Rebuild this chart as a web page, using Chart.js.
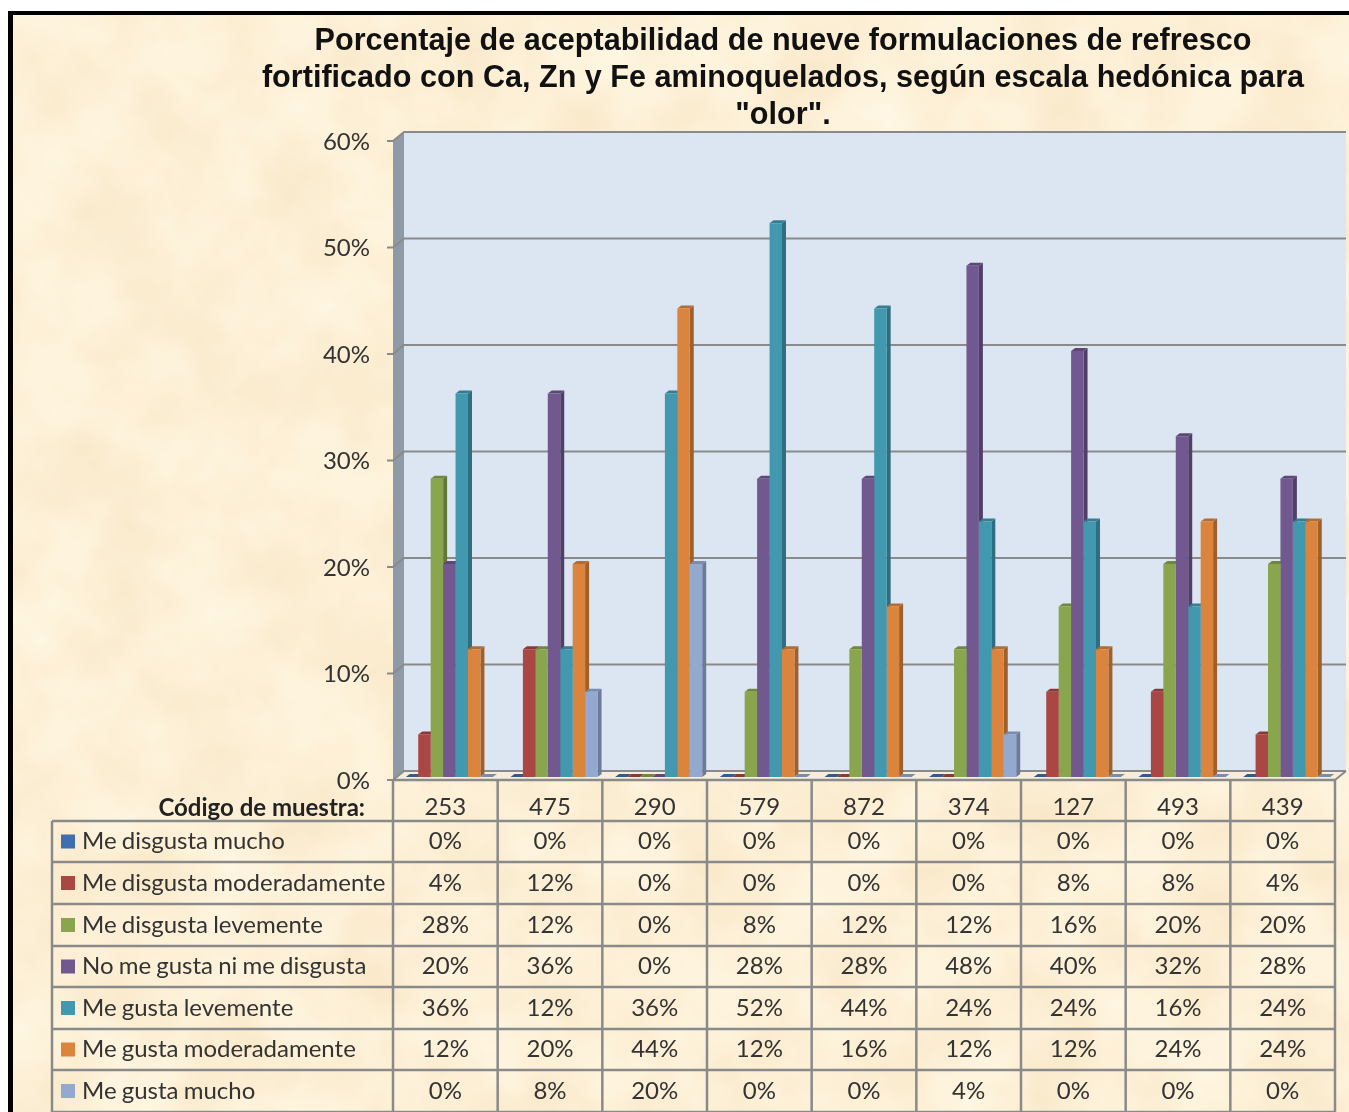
<!DOCTYPE html>
<html lang="es">

<head>
    <meta charset="UTF-8">
    <title>Porcentaje de aceptabilidad - olor</title>
    <script src="https://cdn.jsdelivr.net/npm/chart.js"></script>
    <style>
        html, body { margin: 0; padding: 0; background: #fff; overflow: hidden; }
        #papel { position: absolute; left: 8px; top: 11px; }
        #marco {
            position: absolute; left: 8px; top: 11px; width: 1341px; height: 1101px;
            box-sizing: border-box; border-left: 5px solid #000; border-top: 4px solid #000;
        }
        #titulo {
            position: absolute; left: 183px; top: 21px; width: 1200px; text-align: center;
            font: bold 30.6px/37px "Liberation Sans", Arial, sans-serif; color: #111;
            filter: blur(.4px);
        }
        canvas { position: absolute; left: 0; top: 0; filter: blur(.45px); }
    </style>
</head>

<body>
    <svg id="papel" width="1341" height="1101">
        <filter id="pergamino" x="0" y="0" width="100%" height="100%" color-interpolation-filters="sRGB">
            <feTurbulence type="fractalNoise" baseFrequency="0.012" numOctaves="4" seed="7" />
            <feColorMatrix type="matrix" values="0.03 0 0 0 0.975  0.08 0 0 0 0.90  0.14 0 0 0 0.77  0 0 0 0 1" />
        </filter>
        <rect width="1341" height="1101" filter="url(#pergamino)" />
    </svg>
    <div id="marco"></div>
    <canvas id="grafico" width="1349" height="1112"></canvas>
    <div id="titulo">Porcentaje de aceptabilidad de nueve formulaciones de refresco<br>fortificado con Ca, Zn y Fe aminoquelados, según escala hedónica para<br>"olor".</div>

    <script>
        const codigos = ['253', '475', '290', '579', '872', '374', '127', '493', '439'];
        const meDisgustaMucho = [0, 0, 0, 0, 0, 0, 0, 0, 0];
        const meDisgustaModeradamente = [4, 12, 0, 0, 0, 0, 8, 8, 4];
        const meDisgustaLevemente = [28, 12, 0, 8, 12, 12, 16, 20, 20];
        const noMeGustaNiMeDisgusta = [20, 36, 0, 28, 28, 48, 40, 32, 28];
        const meGustaLevemente = [36, 12, 36, 52, 44, 24, 24, 16, 24];
        const meGustaModeradamente = [12, 20, 44, 12, 16, 12, 12, 24, 24];
        const meGustaMucho = [0, 8, 20, 0, 0, 4, 0, 0, 0];

        const nombres = ['Me disgusta mucho', 'Me disgusta moderadamente', 'Me disgusta levemente',
            'No me gusta ni me disgusta', 'Me gusta levemente', 'Me gusta moderadamente', 'Me gusta mucho'];
        const series = [meDisgustaMucho, meDisgustaModeradamente, meDisgustaLevemente,
            noMeGustaNiMeDisgusta, meGustaLevemente, meGustaModeradamente, meGustaMucho];

        const colores = ['#3f6fae', '#aa4644', '#89a54e', '#71588f', '#4198af', '#db843d', '#93a9cf'];
        const lados = ['#2c4f7e', '#7c3231', '#637838', '#513f68', '#2e6e80', '#a0602b', '#6b7b98'];
        const tapas = ['#34598d', '#8c3836', '#708740', '#5d4875', '#357e91', '#b56c30', '#7a8cab'];

        const FUENTE = 'Lato, "Open Sans", sans-serif';
        const LINEA = '#8a8a8a';
        const TEXTO = '#333';
        const filas = [821, 862, 904, 946, 987, 1029, 1070, 1112];

        // paredes, piso y lineas de guia en falso 3D
        const paredes = {
            id: 'paredes',
            beforeDatasetsDraw(chart) {
                const ctx = chart.ctx, y = chart.scales.y;
                const izq = 393, der = 1335, dx = 11, dy = -9, sube = 3;
                const cero = y.getPixelForValue(0) + sube, tope = y.getPixelForValue(60) + sube;
                ctx.save();
                ctx.fillStyle = '#dce6f2';
                ctx.fillRect(izq + dx, tope + dy, der - izq, cero - tope);
                ctx.fillStyle = '#8e9aa6';
                ctx.beginPath();
                ctx.moveTo(izq, tope); ctx.lineTo(izq + dx, tope + dy);
                ctx.lineTo(izq + dx, cero + dy); ctx.lineTo(izq, cero);
                ctx.closePath(); ctx.fill();
                ctx.fillStyle = '#f6eedb';
                ctx.beginPath();
                ctx.moveTo(izq, cero); ctx.lineTo(izq + dx, cero + dy);
                ctx.lineTo(der + dx, cero + dy); ctx.lineTo(der, cero);
                ctx.closePath(); ctx.fill();
                ctx.strokeStyle = LINEA;
                ctx.lineWidth = 2;
                y.ticks.forEach(t => {
                    const py = y.getPixelForValue(t.value) + sube;
                    ctx.beginPath();
                    ctx.moveTo(izq - 6, py); ctx.lineTo(izq, py);
                    ctx.lineTo(izq + dx, py + dy); ctx.lineTo(der + dx, py + dy);
                    ctx.stroke();
                });
                ctx.beginPath();
                ctx.moveTo(der + dx, cero + dy); ctx.lineTo(der, cero);
                ctx.stroke();
                ctx.restore();

                // caras laterales y tapas, de izquierda a derecha
                const prof = 4, alto = 3;
                ctx.save();
                series.forEach((s, i) => {
                    chart.getDatasetMeta(i).data.forEach(b => {
                        const x2 = b.x + b.width / 2, x1 = b.x - b.width / 2;
                        ctx.fillStyle = lados[i];
                        ctx.beginPath();
                        ctx.moveTo(x2, b.y); ctx.lineTo(x2 + prof, b.y - alto);
                        ctx.lineTo(x2 + prof, b.base - alto); ctx.lineTo(x2, b.base);
                        ctx.closePath(); ctx.fill();
                        ctx.fillStyle = tapas[i];
                        ctx.beginPath();
                        ctx.moveTo(x1, b.y); ctx.lineTo(x1 + prof, b.y - alto);
                        ctx.lineTo(x2 + prof, b.y - alto); ctx.lineTo(x2, b.y);
                        ctx.closePath(); ctx.fill();
                    });
                });
                ctx.restore();
            }
        };

        // tabla de datos bajo el grafico
        const tabla = {
            id: 'tabla',
            afterDraw(chart) {
                const ctx = chart.ctx, x = chart.scales.x;
                const izq = 393, der = 1335, ancho = (der - izq) / codigos.length;
                ctx.save();
                ctx.strokeStyle = LINEA;
                ctx.lineWidth = 2.5;
                ctx.beginPath();
                ctx.moveTo(izq, 780); ctx.lineTo(der, 780);
                filas.forEach(f => { ctx.moveTo(52, f); ctx.lineTo(der, f); });
                ctx.moveTo(52, 821); ctx.lineTo(52, 1112);
                for (let c = 0; c <= codigos.length; c++) {
                    ctx.moveTo(izq + c * ancho, 780); ctx.lineTo(izq + c * ancho, 1112);
                }
                ctx.stroke();

                ctx.textBaseline = 'middle';
                ctx.fillStyle = '#222';
                ctx.textAlign = 'right';
                ctx.font = 'bold 24px ' + FUENTE;
                ctx.fillText('Código de muestra:', 365, 808);

                ctx.font = '24px ' + FUENTE;
                nombres.forEach((n, i) => {
                    const medio = (filas[i] + filas[i + 1]) / 2;
                    ctx.fillStyle = colores[i];
                    ctx.fillRect(61, medio - 7, 14, 14);
                    ctx.fillStyle = TEXTO;
                    ctx.textAlign = 'left';
                    ctx.wordSpacing = '-1px';
                    ctx.fillText(n, 82, medio);
                    ctx.wordSpacing = '0px';
                    ctx.textAlign = 'center';
                    series[i].forEach((v, j) => {
                        ctx.fillText(v + '%', x.getPixelForTick(j) - 4, medio);
                    });
                });
                ctx.restore();
            }
        };

        new Chart(document.getElementById('grafico'), {
            type: 'bar',
            data: {
                labels: codigos,
                datasets: series.map((s, i) => ({
                    label: nombres[i],
                    data: s,
                    backgroundColor: colores[i],
                    borderWidth: 0,
                    categoryPercentage: 0.832,
                    barPercentage: 1
                }))
            },
            options: {
                responsive: false,
                animation: false,
                layout: { autoPadding: false, padding: { top: 138, right: 10 } },
                plugins: { legend: { display: false }, title: { display: false }, tooltip: { enabled: false } },
                scales: {
                    x: {
                        afterFit(s) { s.height = 335; },
                        grid: { display: false },
                        border: { display: false },
                        ticks: {
                            autoSkip: false, maxRotation: 0, minRotation: 0, padding: 8, labelOffset: -4,
                            color: TEXTO, font: { family: FUENTE, size: 24 }
                        }
                    },
                    y: {
                        min: 0,
                        max: 60,
                        afterFit(s) { s.width = 397; },
                        grid: { display: false },
                        border: { display: false },
                        ticks: {
                            stepSize: 10, padding: 19, labelOffset: 4, color: TEXTO,
                            font: { family: FUENTE, size: 24 },
                            callback: v => v + '%'
                        }
                    }
                }
            },
            plugins: [paredes, tabla]
        });
    </script>
</body>

</html>
